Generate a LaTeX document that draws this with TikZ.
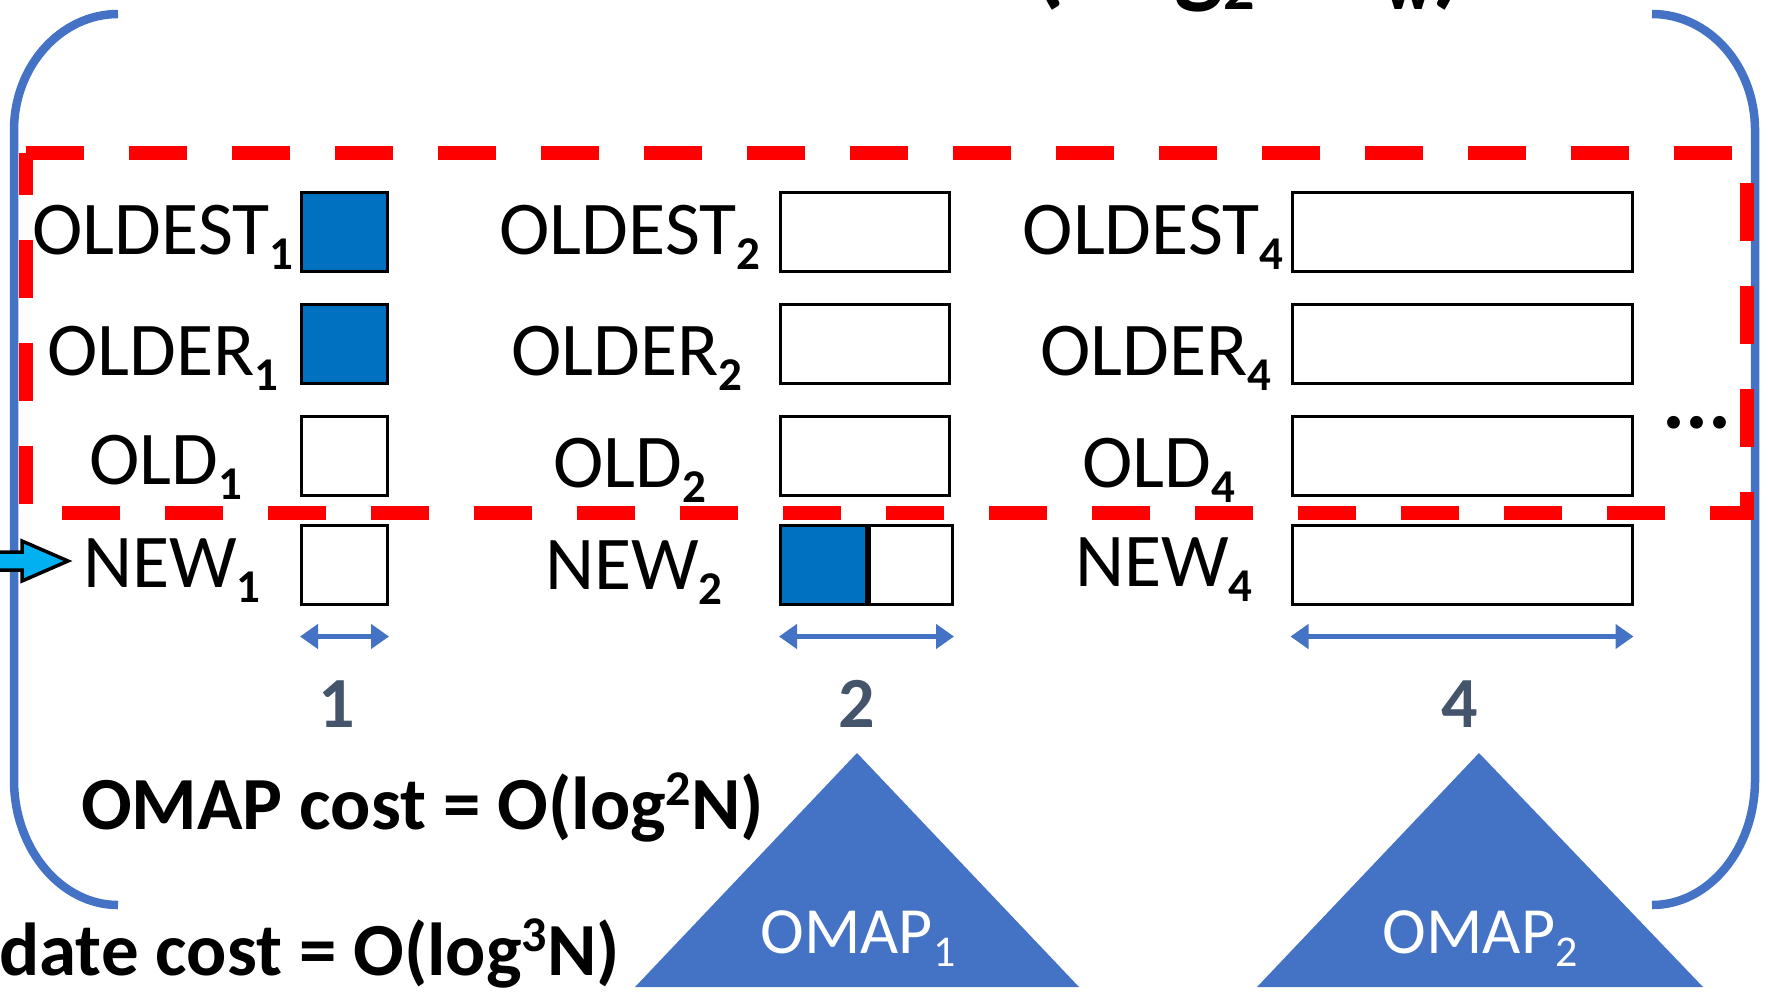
\documentclass[tikz,border=0pt]{standalone}
\usepackage{fontspec}
\setmainfont{Carlito}
\usetikzlibrary{arrows.meta}
\definecolor{brk}{HTML}{4472C4}
\definecolor{cellblue}{HTML}{0070C0}
\definecolor{numc}{HTML}{44546A}
\definecolor{inarrow}{HTML}{00B0F0}
% lowered / raised small text: size, shift, content
\newcommand\subtxt[3]{\raisebox{-#2pt}{\fontsize{#1}{#1}\selectfont #3}}
\newcommand\suptxt[3]{\raisebox{#2pt}{\fontsize{#1}{#1}\selectfont #3}}
\newcommand\lvl[1]{\subtxt{47}{15}{\bfseries #1}}
\begin{document}
\begin{tikzpicture}[x=1pt,y=-1pt,
  lab/.style={anchor=base, inner sep=0pt, font=\fontsize{76}{80}\selectfont},
  cell/.style={draw=black, line width=3pt, inner sep=0pt, anchor=north west, minimum height=79pt},
  dim/.style={draw=brk, line width=5pt, {Triangle[length=18pt,width=24pt]}-{Triangle[length=18pt,width=24pt]}},
  num/.style={anchor=base, inner sep=0pt, text=numc, font=\fontsize{72}{72}\selectfont\bfseries},
  cost/.style={inner sep=0pt, font=\fontsize{75}{80}\selectfont\bfseries},
  omap/.style={anchor=base, inner sep=0pt, text=white, font=\fontsize{66}{70}\selectfont},
  bracket/.style={draw=brk, line width=8.5pt, line cap=butt},
  group/.style={draw=red, line width=14pt, dash pattern=on 58pt off 45pt, line join=miter}
]
\useasboundingbox (0,0) rectangle (1768,994);
\clip (0,0) rectangle (1768,994);

% heading line, cut by the top edge
\node[anchor=base west, inner sep=0pt, font=\fontsize{104}{104}\selectfont\bfseries] (head) at (962,-6)
  {O(\hspace{28pt}log\subtxt{62}{15}{2}N\hspace{4pt}B\subtxt{62}{15}{w})};

% enclosing brackets
\draw[bracket] (118,14) .. controls (61,14) and (14,66) .. (14,130) -- (14,780)
  .. controls (14,849) and (61,905) .. (118,905);
\draw[bracket] (1652,14) .. controls (1709,14) and (1755,66) .. (1755,130) -- (1755,780)
  .. controls (1755,849) and (1709,905) .. (1652,905);

% group of the three old levels
\draw[group] (26,153) -- (1747,153) -- (1747,513) -- (26,513) -- cycle;

% level 1
\node[lab] (l11) at (163,254) {OLDEST\lvl{1}};
\node[lab] (l12) at (163,375) {OLDER\lvl{1}};
\node[lab] (l13) at (166,484) {OLD\lvl{1}};
\node[lab] (l14) at (172,587) {NEW\lvl{1}};
\node[cell, minimum width=86pt, fill=cellblue] (c11) at (300,190.5) {};
\node[cell, minimum width=86pt, fill=cellblue] (c12) at (300,302.5) {};
\node[cell, minimum width=86pt] (c13) at (300,414.5) {};
\node[cell, minimum width=86pt] (c14) at (300,523.5) {};

% level 2
\node[lab] (l21) at (630,254) {OLDEST\lvl{2}};
\node[lab] (l22) at (627,375) {OLDER\lvl{2}};
\node[lab] (l23) at (630,487) {OLD\lvl{2}};
\node[lab] (l24) at (634,589) {NEW\lvl{2}};
\node[cell, minimum width=169pt] (c21) at (779,190.5) {};
\node[cell, minimum width=169pt] (c22) at (779,302.5) {};
\node[cell, minimum width=169pt] (c23) at (779,414.5) {};
\node[cell, minimum width=86pt, fill=cellblue] (c24a) at (779,523.5) {};
\node[cell, minimum width=83pt] (c24b) at (c24a.north east) {};

% level 4
\node[lab] (l41) at (1153,254) {OLDEST\lvl{4}};
\node[lab] (l42) at (1156,375) {OLDER\lvl{4}};
\node[lab] (l43) at (1159,487) {OLD\lvl{4}};
\node[lab] (l44) at (1164,586) {NEW\lvl{4}};
\node[cell, minimum width=340pt] (c41) at (1290.5,190.5) {};
\node[cell, minimum width=340pt] (c42) at (1290.5,302.5) {};
\node[cell, minimum width=340pt] (c43) at (1290.5,414.5) {};
\node[cell, minimum width=340pt] (c44) at (1290.5,523.5) {};

\node[anchor=base west, inner sep=0pt, font=\fontsize{86}{86}\selectfont\bfseries] (more) at (1662,428) {...};

% level sizes
\draw[dim] ([yshift=-31pt]c14.south west) -- ([yshift=-31pt]c14.south east);
\draw[dim] ([yshift=-31pt]c24a.south west) -- ([yshift=-31pt]c24b.south east);
\draw[dim] ([yshift=-31pt]c44.south west) -- ([yshift=-31pt]c44.south east);
\node[num] (n1) at (337,727) {1};
\node[num] (n2) at (857,727) {2};
\node[num] (n4) at (1460,727) {4};

% insertion arrow into NEW_1
\filldraw[fill=inarrow, draw=black, line width=3.5pt, line join=miter]
  (-10,552) -- (22,552) -- (22,541) -- (68,561) -- (22,581) -- (22,570) -- (-10,570) -- cycle;

% costs
\node[cost, anchor=base west] (omapcost) at (81,829) {OMAP cost = O(log\suptxt{50}{24}{2}N)};
\node[cost, anchor=base east] (updcost) at (620,975) {Update cost = O(log\suptxt{50}{24}{3}N)};

% oblivious maps
\fill[brk] (857,753) -- (1079,987) -- (635,987) -- cycle;
\fill[brk] (1479,753) -- (1703,987) -- (1257,987) -- cycle;
\node[omap] (om1) at (858,953) {OMAP\subtxt{44}{13}{1}};
\node[omap] (om2) at (1480,953) {OMAP\subtxt{44}{13}{2}};
\end{tikzpicture}
\end{document}
